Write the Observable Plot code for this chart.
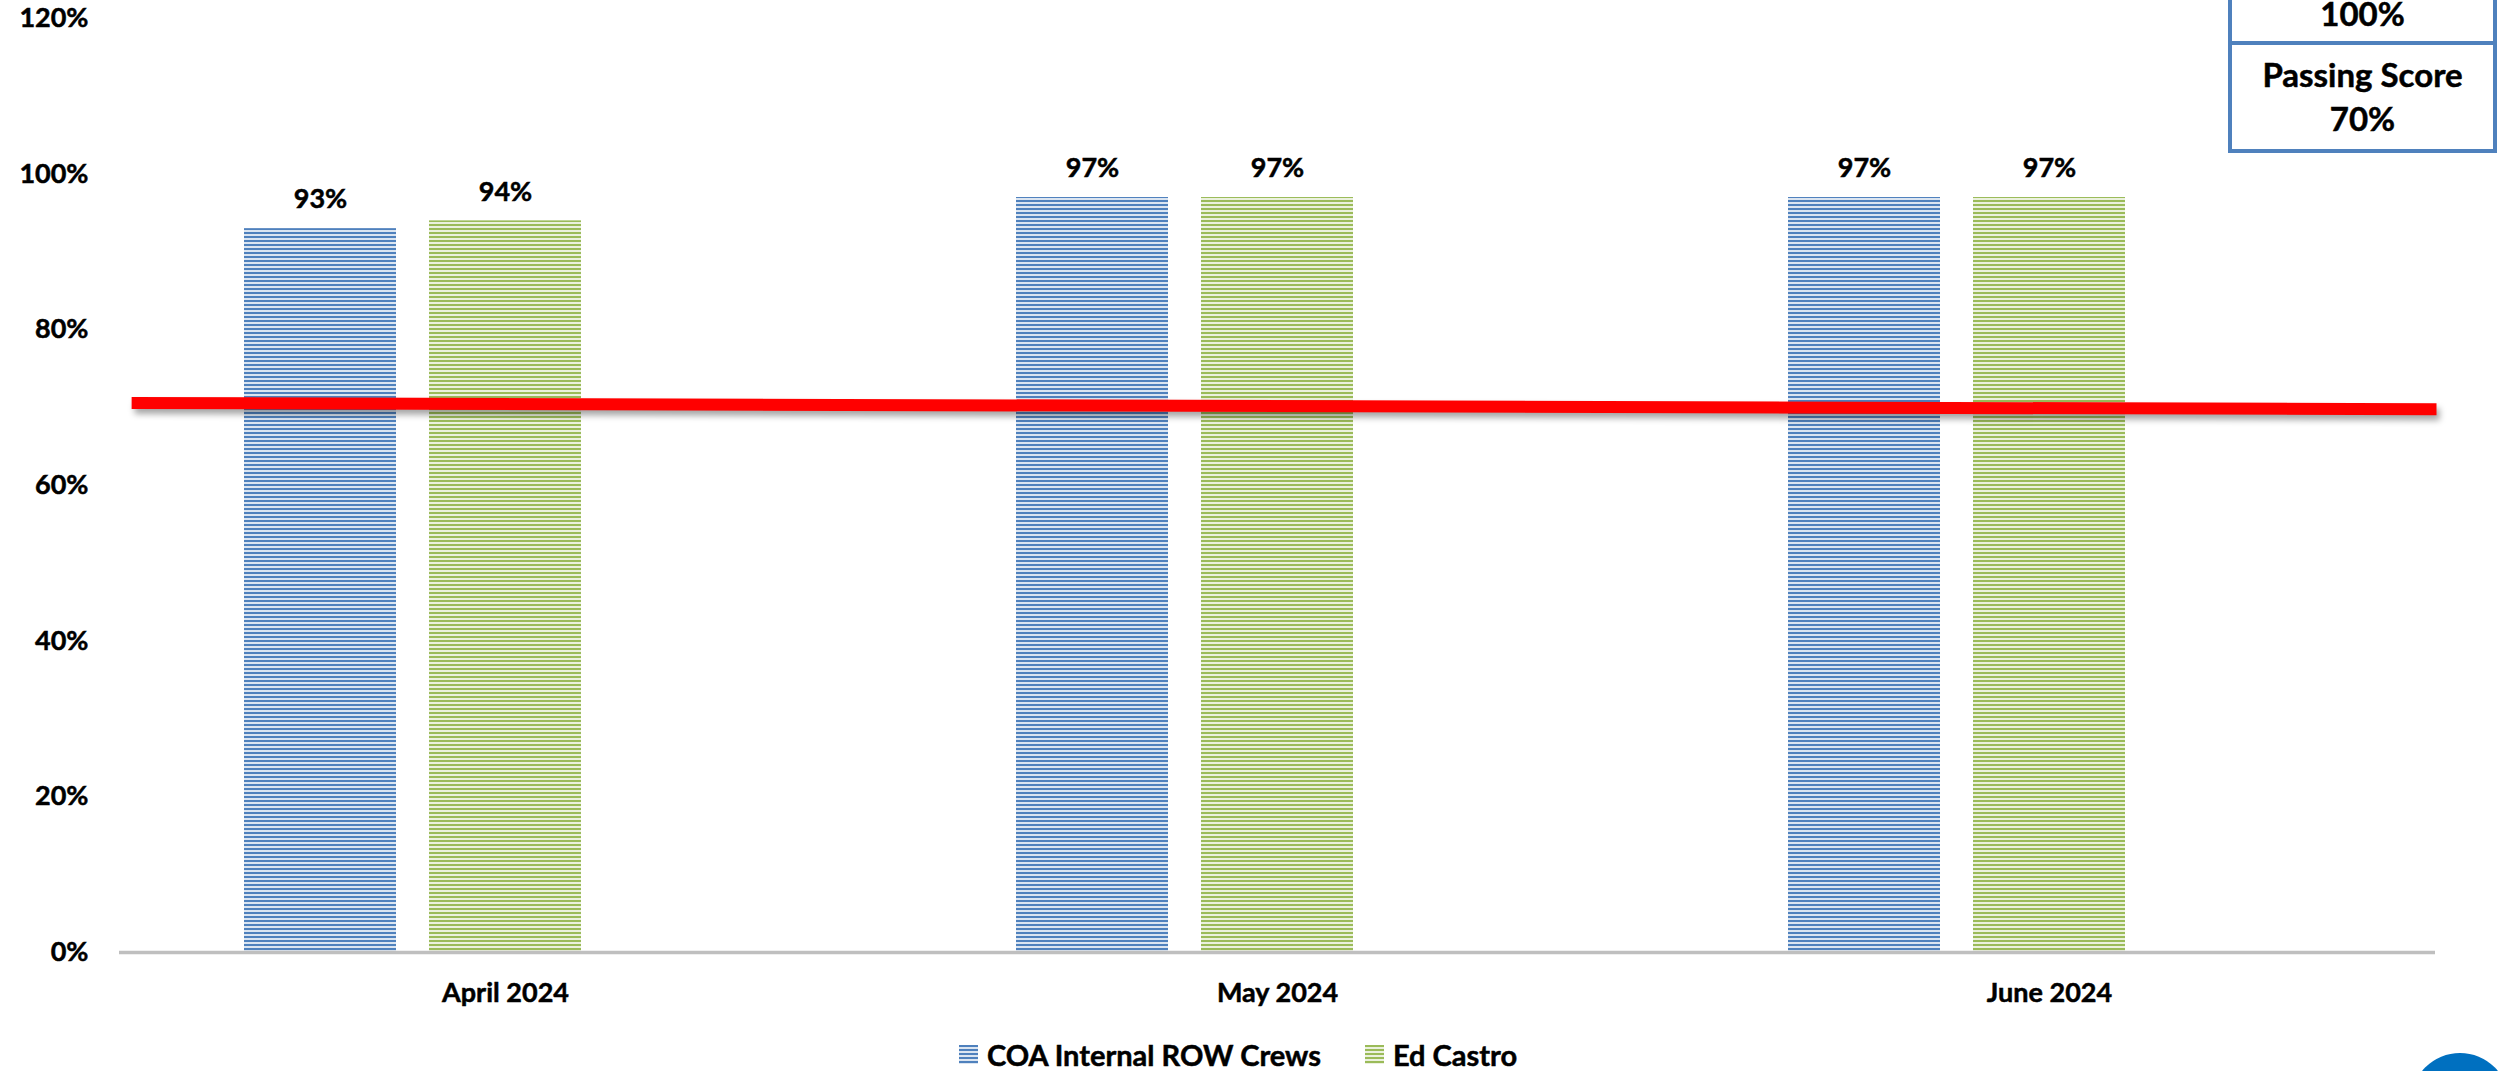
<!DOCTYPE html>
<html>
<head>
<meta charset="utf-8">
<script src="https://cdn.jsdelivr.net/npm/d3@7"></script>
<script src="https://cdn.jsdelivr.net/npm/@observablehq/plot@0.6"></script>
<style>
  html, body { margin: 0; padding: 0; background: #fff; }
  #wrap { position: relative; width: 2499px; height: 1071px; overflow: hidden; font-family: Lato, sans-serif; font-weight: 700; color: #000; }
  #chart, #overlay { position: absolute; left: 0; top: 0; }
  #overlay { pointer-events: none; }
  #chart svg text { stroke: #000; stroke-width: 0.5px; }
  .cell { position: absolute; box-sizing: border-box; border: 4px solid #4f81bd; background: #fff; text-align: center; font-size: 33px; -webkit-text-stroke: 0.5px #000; }
  .cell span { position: absolute; left: 0; right: 0; line-height: 1; }
  #legend { position: absolute; top: 1040px; left: 959px; display: flex; align-items: center; font-size: 29px; line-height: 1; white-space: nowrap; -webkit-text-stroke: 0.5px #000; }
  #legend .item { display: flex; align-items: center; margin-right: 44px; }
  #legend .sw { width: 19px; height: 19px; margin-right: 9px; }
  #dot { position: absolute; left: 2411px; top: 1053px; width: 98px; height: 98px; border-radius: 50%; background: #0070c0; }
</style>
</head>
<body>
<div id="wrap">
  <div id="chart"></div>
  <div id="overlay"></div>
  <div class="cell" id="cellTop" style="left:2228px; top:-60px; width:269px; height:105px;"><span id="boxTopText" style="top:57px; line-height:0.75;"></span></div>
  <div class="cell" id="cellBottom" style="left:2228px; top:41px; width:269px; height:112px;"><span id="boxLabel" style="top:13px;"></span><span id="boxValue" style="top:57px;"></span></div>
  <div id="legend"></div>
  <div id="dot"></div>
</div>
<script>
// ---- data ----
const months = ["April 2024", "May 2024", "June 2024"];
const seriesNames = ["COA Internal ROW Crews", "Ed Castro"];
const coaValues = [93, 97, 97];
const edValues = [94, 97, 97];
const yTicks = [0, 20, 40, 60, 80, 100, 120];
// hand-drawn passing-score line: ends measured in month units along the axis, and its value at each end
const passingLineX = [0.017, 3];
const passingLineY = [70.6, 69.8];
const boxTopValue = "100%";
const boxLabel = "Passing Score";
const boxValue = "70%";

const seriesColors = {
  "COA Internal ROW Crews": { dark: "#4f81bd", light: "#dbe5f1", id: "stripeBlue" },
  "Ed Castro": { dark: "#9bbb59", light: "#ebf1de", id: "stripeGreen" }
};

const rows = months.flatMap((m, i) => [
  { month: m, series: seriesNames[0], value: coaValues[i] },
  { month: m, series: seriesNames[1], value: edValues[i] }
]);
const lineRows = passingLineX.map((x, i) => ({ x, y: passingLineY[i] }));

const frame = { width: 2499, height: 1030, marginTop: 18, marginBottom: 78, marginLeft: 118, marginRight: 63 };

const svg = Plot.plot({
  ...frame,
  style: { fontFamily: "Lato, sans-serif", fontSize: "27px", fontWeight: "700", color: "#000", background: "transparent" },
  fx: { domain: months, padding: 0, label: null, axis: "bottom", tickSize: 0, tickPadding: 30, fontSize: 28.5 },
  x: { domain: [...seriesNames, "(blank)"], paddingInner: 0.1774, paddingOuter: 0.666, axis: null },
  y: { domain: [0, 120], ticks: yTicks, tickFormat: d => d + "%", tickSize: 0, tickPadding: 31, label: null },
  color: { domain: seriesNames, range: seriesNames.map(s => `url(#${seriesColors[s].id})`) },
  marks: [
    Plot.barY(rows, { fx: "month", x: "series", y: "value", fill: "series" }),
    Plot.ruleY([0], { stroke: "#bfbfbf", strokeWidth: 3.5 }),
    Plot.text(rows, { fx: "month", x: "series", y: "value", text: d => d.value + "%", dy: -29, lineAnchor: "middle", fill: "#000" })
  ]
});

// stripe patterns
const defs = d3.select(svg).insert("defs", ":first-child");
for (const s of seriesNames) {
  const c = seriesColors[s];
  const p = defs.append("pattern").attr("id", c.id).attr("patternUnits", "userSpaceOnUse").attr("width", 8).attr("height", 4);
  p.append("rect").attr("width", 8).attr("height", 4).attr("fill", c.light);
  p.append("rect").attr("width", 8).attr("height", 2).attr("fill", c.dark);
}
document.getElementById("chart").appendChild(svg);

// passing-score line, drawn on the same frame with a continuous x over the months
const overlay = Plot.plot({
  ...frame,
  style: { background: "transparent", overflow: "visible" },
  x: { domain: [0, months.length], axis: null },
  y: { domain: [0, 120], axis: null },
  marks: [
    Plot.line(lineRows, { x: "x", y: "y", stroke: "#ff0000", strokeWidth: 12, strokeLinecap: "butt" })
  ]
});
d3.select(overlay).selectAll('g[stroke="#ff0000"], path[stroke="#ff0000"]').style("filter", "drop-shadow(3px 5px 3px rgba(0,0,0,0.35))");
document.getElementById("overlay").appendChild(overlay);

// box texts
document.getElementById("boxTopText").textContent = boxTopValue;
document.getElementById("boxLabel").textContent = boxLabel;
document.getElementById("boxValue").textContent = boxValue;

// legend
const legend = d3.select("#legend");
for (const s of seriesNames) {
  const c = seriesColors[s];
  const item = legend.append("div").attr("class", "item");
  item.append("div").attr("class", "sw")
    .style("background", `repeating-linear-gradient(to bottom, ${c.dark} 0px, ${c.dark} 2px, ${c.light} 2px, ${c.light} 4px)`);
  item.append("span").text(s);
}
</script>
</body>
</html>
